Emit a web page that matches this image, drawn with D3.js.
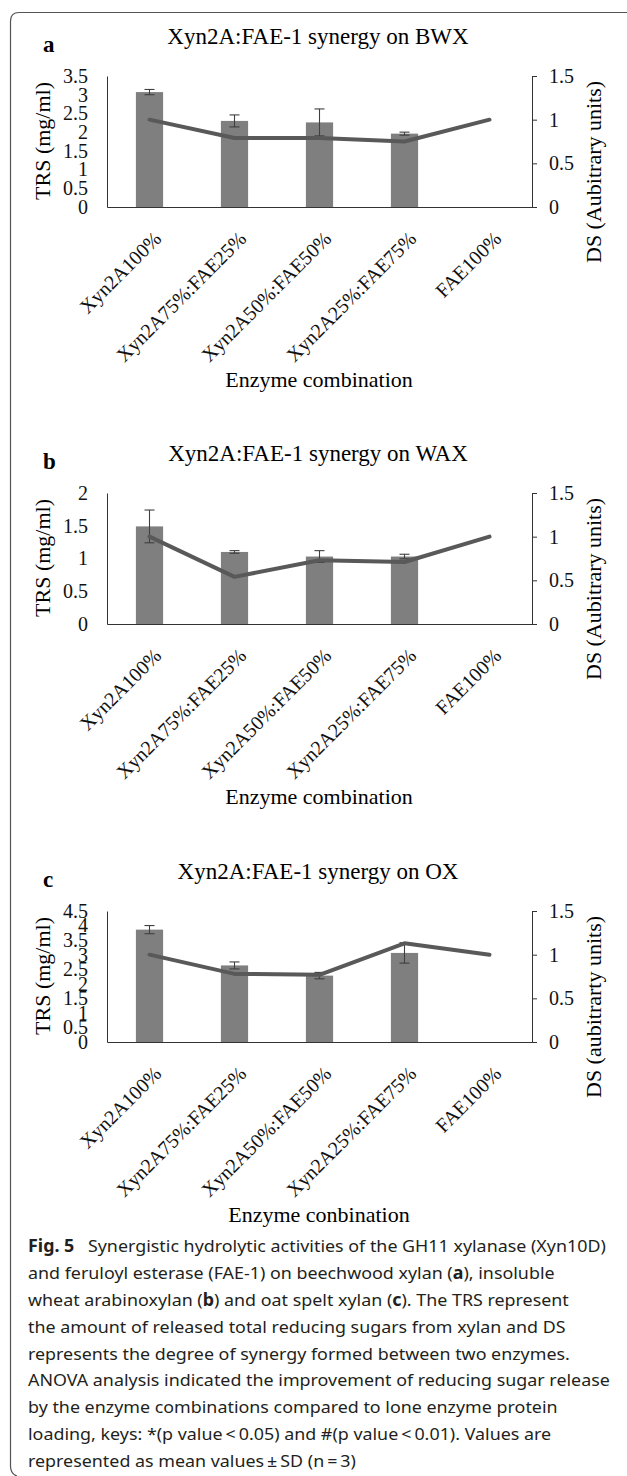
<!DOCTYPE html>
<html>
<head>
<meta charset="utf-8">
<script src="https://cdn.jsdelivr.net/npm/d3@7"></script>
<style>
  body { margin: 0; background: #fff; }
  svg { display: block; }
</style>
</head>
<body>
<svg id="fig" width="627" height="1476"></svg>
<script>
// enzyme combinations (x axis)
const cats = ["Xyn2A100%", "Xyn2A75%:FAE25%", "Xyn2A50%:FAE50%", "Xyn2A25%:FAE75%", "FAE100%"]

// a - BWX
const trsA = [3.07, 2.30, 2.26, 1.96, 0]
const errA = [0.07, 0.16, 0.36, 0.04, 0]
const dsA = [1.0, 0.79, 0.79, 0.75, 1.0]
const ticksA = [0, 0.5, 1, 1.5, 2, 2.5, 3, 3.5]

// b - WAX
const trsB = [1.49, 1.10, 1.03, 1.03, 0]
const errB = [0.25, 0.02, 0.09, 0.035, 0]
const dsB = [1.0, 0.54, 0.73, 0.71, 1.0]
const ticksB = [0, 0.5, 1, 1.5, 2]

// c - OX
const trsC = [3.86, 2.63, 2.28, 3.06, 0]
const errC = [0.14, 0.12, 0.11, 0.35, 0]
const dsC = [1.0, 0.78, 0.77, 1.13, 1.0]
const ticksC = [0, 0.5, 1, 1.5, 2, 2.5, 3, 3.5, 4, 4.5]

const dsTicks = [0, 0.5, 1, 1.5]

const capLines = [
  "**Fig. 5**\u2002 Synergistic hydrolytic activities of the GH11 xylanase (Xyn10D)",
  "and feruloyl esterase (FAE-1) on beechwood xylan (**a**), insoluble",
  "wheat arabinoxylan (**b**) and oat spelt xylan (**c**). The TRS represent",
  "the amount of released total reducing sugars from xylan and DS",
  "represents the degree of synergy formed between two enzymes.",
  "ANOVA analysis indicated the improvement of reducing sugar release",
  "by the enzyme combinations compared to lone enzyme protein",
  "loading, keys: *(p value\u2009<\u20090.05) and #(p value\u2009<\u20090.01). Values are",
  "represented as mean values\u2009\u00b1\u2009SD (n\u2009=\u20093)"
]

const serif = "'Liberation Serif', 'Times New Roman', serif"
const svg = d3.select("#fig")

// panel border, open on the right
svg.append("path")
  .attr("d", "M627,12.5H19Q10.5,12.5 10.5,21V1466Q10.5,1474 17,1476")
  .attr("fill", "none")
  .attr("stroke", "#555")
  .attr("stroke-width", 1.2)

function drawPanel(p) {
  const g = svg.append("g")
  const y0 = p.top + 131
  const x = d3.scaleBand().domain(cats).range([107, 532]).paddingInner(0.68).paddingOuter(0.34)
  const yL = d3.scaleLinear().domain([0, p.leftMax]).range([y0, p.top])
  const yR = d3.scaleLinear().domain([0, 1.5]).range([y0, p.top])
  const cx = i => x(cats[i]) + x.bandwidth() / 2

  // titles
  g.append("text").attr("x", 318).attr("y", p.top - 32)
    .attr("text-anchor", "middle").attr("font-family", serif).attr("font-size", 23)
    .text(p.title)
  g.append("text").attr("x", 43).attr("y", p.top - 24)
    .attr("font-family", serif).attr("font-size", 23).attr("font-weight", "bold")
    .text(p.letter)

  // bars
  g.selectAll("rect.bar").data(p.trs).join("rect")
    .attr("class", "bar")
    .attr("x", (d, i) => x(cats[i]))
    .attr("width", x.bandwidth())
    .attr("y", d => yL(d))
    .attr("height", d => y0 - yL(d))
    .attr("fill", "#7f7f7f")

  // error bars
  const eb = g.selectAll("g.err").data(p.trs.map((d, i) => [d, p.err[i], i]).filter(d => d[1] > 0))
    .join("g").attr("class", "err")
    .attr("stroke", "#3f3f3f").attr("stroke-width", 1.1)
  eb.append("line").attr("x1", d => cx(d[2])).attr("x2", d => cx(d[2]))
    .attr("y1", d => yL(d[0] - d[1])).attr("y2", d => yL(d[0] + d[1]))
  eb.append("line").attr("x1", d => cx(d[2]) - 5).attr("x2", d => cx(d[2]) + 5)
    .attr("y1", d => yL(d[0] + d[1])).attr("y2", d => yL(d[0] + d[1]))
  eb.append("line").attr("x1", d => cx(d[2]) - 5).attr("x2", d => cx(d[2]) + 5)
    .attr("y1", d => yL(d[0] - d[1])).attr("y2", d => yL(d[0] - d[1]))

  // left axis
  g.append("g").attr("transform", "translate(107,0)")
    .call(d3.axisLeft(yL).tickValues(p.leftTicks).tickSize(0).tickPadding(19).tickFormat(d3.format("")))
    .call(a => a.attr("font-family", serif).attr("font-size", 20))
    .call(a => a.select(".domain").attr("stroke", "#333"))
    .call(a => a.selectAll(".tick text").attr("fill", "#111"))

  // right axis
  g.append("g").attr("transform", "translate(532,0)")
    .call(d3.axisRight(yR).tickValues(dsTicks).tickSize(5).tickSizeOuter(0).tickPadding(12).tickFormat(d3.format("")))
    .call(a => a.attr("font-family", serif).attr("font-size", 20))
    .call(a => a.selectAll(".domain, .tick line").attr("stroke", "#333"))
    .call(a => a.selectAll(".tick text").attr("fill", "#111"))

  // bottom axis with slanted labels
  g.append("g").attr("transform", `translate(0,${y0})`)
    .call(d3.axisBottom(x).tickSize(0).tickSizeOuter(0))
    .call(a => a.attr("font-family", serif).attr("font-size", 20))
    .call(a => a.select(".domain").attr("stroke", "#333"))
    .call(a => a.selectAll(".tick text")
      .attr("x", 0).attr("y", 0).attr("dy", null)
      .attr("fill", "#111")
      .attr("text-anchor", "end")
      .attr("transform", "translate(13,33) rotate(-45)"))

  // DS line
  g.append("path").datum(p.ds)
    .attr("fill", "none").attr("stroke", "#595959").attr("stroke-width", 4)
    .attr("stroke-linejoin", "round").attr("stroke-linecap", "round")
    .attr("d", d3.line().x((d, i) => cx(i)).y(d => yR(d)))

  // axis titles
  g.append("text").attr("transform", `translate(50,${p.top + 65}) rotate(-90)`)
    .attr("text-anchor", "middle").attr("font-family", serif).attr("font-size", 22)
    .text("TRS (mg/ml)")
  g.append("text").attr("transform", `translate(601,${p.top + 187}) rotate(-90)`)
    .attr("text-anchor", "start").attr("font-family", serif).attr("font-size", 22)
    .text(p.dsLabel)
  g.append("text").attr("x", 319).attr("y", y0 + 180)
    .attr("text-anchor", "middle").attr("font-family", serif).attr("font-size", 22)
    .text(p.xLabel)
}

drawPanel({top: 76, letter: "a", title: "Xyn2A:FAE-1 synergy on BWX", trs: trsA, err: errA, ds: dsA,
  leftMax: 3.5, leftTicks: ticksA, dsLabel: "DS (Aubitrary units)", xLabel: "Enzyme combination"})
drawPanel({top: 493, letter: "b", title: "Xyn2A:FAE-1 synergy on WAX", trs: trsB, err: errB, ds: dsB,
  leftMax: 2, leftTicks: ticksB, dsLabel: "DS (Aubitrary units)", xLabel: "Enzyme combination"})
drawPanel({top: 911, letter: "c", title: "Xyn2A:FAE-1 synergy on OX", trs: trsC, err: errC, ds: dsC,
  leftMax: 4.5, leftTicks: ticksC, dsLabel: "DS (aubitrarty units)", xLabel: "Enzyme conbination"})

// caption
const cap = svg.append("g")
  .attr("font-family", "'Noto Sans', 'Open Sans', sans-serif")
  .attr("font-size", 17)
  .attr("fill", "#231f20")
capLines.forEach((line, k) => {
  const t = cap.append("text").attr("x", 0).attr("y", 1252 + k * 26.9).attr("xml:space", "preserve")
  line.split("**").forEach((part, j) => {
    if (part) t.append("tspan").attr("font-weight", j % 2 ? "bold" : null).text(part)
  })
})
// squeeze caption horizontally so the long line spans like the printed one
const w = cap.selectAll("text").nodes()[5].getComputedTextLength()
cap.attr("transform", `translate(28,0) scale(${582 / w},1)`)
</script>
</body>
</html>
